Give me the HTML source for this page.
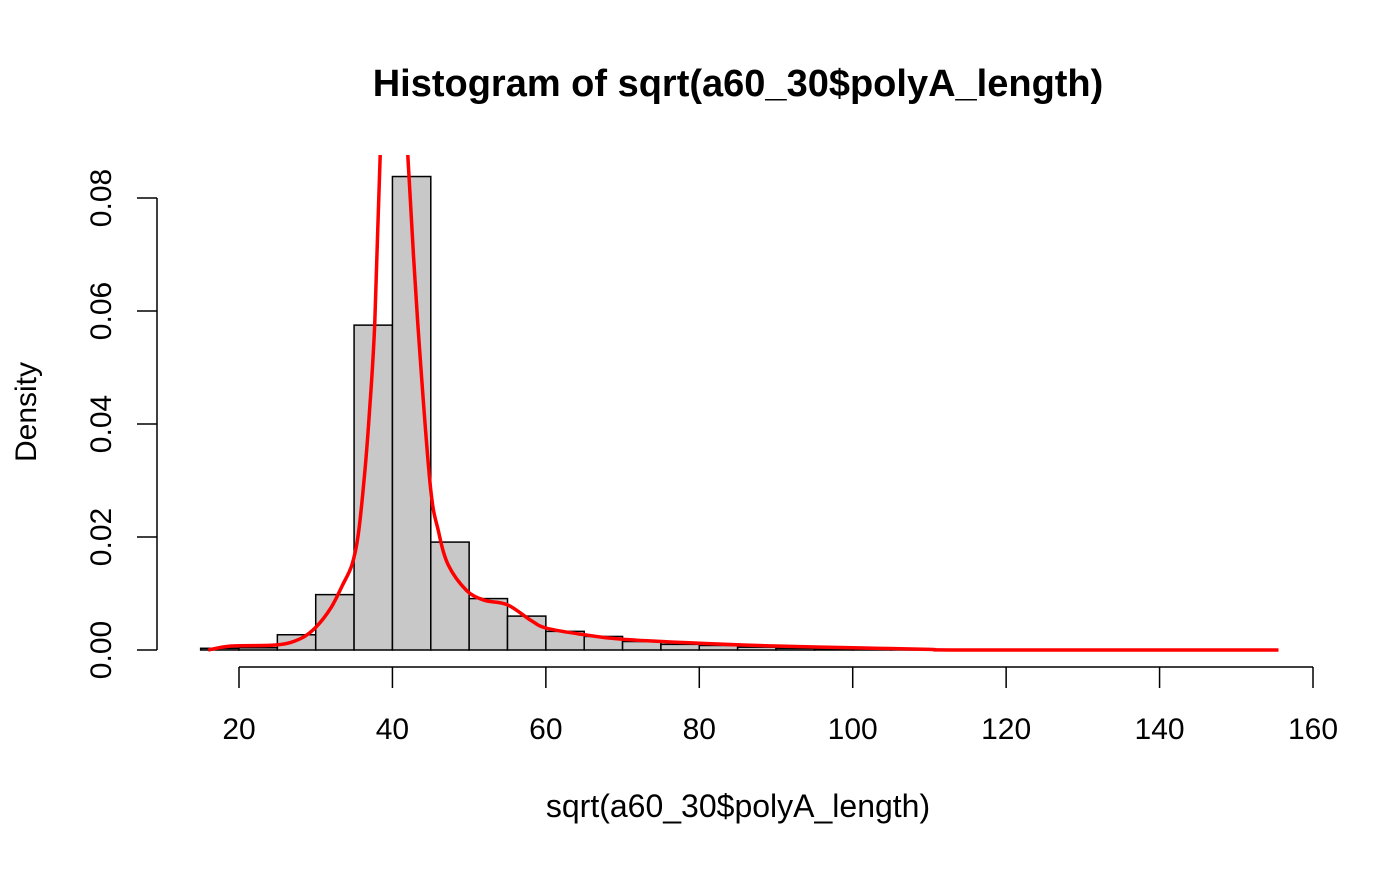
<!DOCTYPE html>
<html><head><meta charset="utf-8"><style>body{margin:0;background:#fff}svg{font-family:"Liberation Sans",Arial,sans-serif}</style></head>
<body>
<svg width="1400" height="865">
<defs><clipPath id="pc"><rect x="160" y="155" width="1160" height="510"/></clipPath></defs>
<text x="738" y="96" font-size="38" font-weight="bold" text-anchor="middle">Histogram of sqrt(a60_30$polyA_length)</text>
<text x="738" y="817" font-size="32" text-anchor="middle">sqrt(a60_30$polyA_length)</text>
<text transform="translate(36,412) rotate(-90)" font-size="30" text-anchor="middle">Density</text>
<g id="bars"></g>
<g id="axes"></g>
<g clip-path="url(#pc)"><path id="dens" fill="none" stroke="#ff0000" stroke-width="3.5" stroke-linejoin="round"/></g>
</svg>
<script>
const binStarts=[15,20,25,30,35,40,45,50,55,60,65,70,75,80,85,90,95,100,105];
const binDensity=[0.0003,0.0004,0.0027,0.0098,0.0575,0.0838,0.0191,0.0091,0.006,0.0033,0.0024,0.0015,0.001,0.0008,0.0005,0.0003,0.0002,0.0001,0.0001];
const binWidth=5;
const densX=[16,19,25,28,30,32,33.5,34.7,35.5,36.3,37,37.7,38.4,39.2,40.2,41.2,42,43.3,44.9,46,47.3,49.7,52,55,58,60,65,70,80,90,100,110,115,155.5];
const densY=[0,0.0007,0.0009,0.002,0.004,0.0075,0.0115,0.015,0.02,0.03,0.042,0.058,0.0876,0.11,0.12,0.11,0.0876,0.058,0.0296,0.021,0.015,0.0105,0.0088,0.008,0.0053,0.0039,0.0027,0.0019,0.0012,0.0007,0.0004,0.0001,0,0];
const xTicks=[20,40,60,80,100,120,140,160];
const yTicks=[0,0.02,0.04,0.06,0.08];
const yTickLabels=["0.00","0.02","0.04","0.06","0.08"];
const X=v=>239+(v-20)*(1074/140);
const Y=v=>650-v*(452/0.08);
const NS="http://www.w3.org/2000/svg";
function mk(t,a,p){const e=document.createElementNS(NS,t);for(const k in a)e.setAttribute(k,a[k]);p.appendChild(e);return e;}
const bars=document.getElementById('bars');
binStarts.forEach((s,i)=>{
 const r=mk('rect',{x:X(s),y:Y(binDensity[i]),width:X(s+binWidth)-X(s),height:Y(0)-Y(binDensity[i]),fill:'#c8c8c8',stroke:'#000','stroke-width':1.5},bars);
 
 
});
const ax=document.getElementById('axes');
mk('line',{x1:X(xTicks[0]),x2:X(xTicks[xTicks.length-1]),y1:667,y2:667,stroke:'#000','stroke-width':1.5},ax);
xTicks.forEach(t=>{
 mk('line',{x1:X(t),x2:X(t),y1:667,y2:688,stroke:'#000','stroke-width':1.5},ax);
 const tx=mk('text',{x:X(t),y:739,'font-size':30,'text-anchor':'middle'},ax);tx.textContent=t;
 
 
});
mk('line',{x1:157,x2:157,y1:Y(yTicks[0]),y2:Y(yTicks[yTicks.length-1]),stroke:'#000','stroke-width':1.5},ax);
yTicks.forEach((t,i)=>{
 const y=Y(t);
 mk('line',{x1:137,x2:157,y1:y,y2:y,stroke:'#000','stroke-width':1.5},ax);
 const tx=mk('text',{transform:`translate(111,${y}) rotate(-90)`,'font-size':30,'text-anchor':'middle'},ax);tx.textContent=yTickLabels[i];
 
 
});
const P=densX.map((x,i)=>[X(x),Y(densY[i])]);
let d='M'+P[0][0]+','+P[0][1];
for(let i=0;i<P.length-1;i++){
 const p0=P[Math.max(0,i-1)],p1=P[i],p2=P[i+1],p3=P[Math.min(P.length-1,i+2)];
 const c1=[p1[0]+(p2[0]-p0[0])/6,p1[1]+(p2[1]-p0[1])/6],c2=[p2[0]-(p3[0]-p1[0])/6,p2[1]-(p3[1]-p1[1])/6];
 d+=`C${c1[0].toFixed(1)},${c1[1].toFixed(1)} ${c2[0].toFixed(1)},${c2[1].toFixed(1)} ${p2[0].toFixed(1)},${p2[1].toFixed(1)}`;
}
document.getElementById('dens').setAttribute('d',d);
</script>
</body></html>
